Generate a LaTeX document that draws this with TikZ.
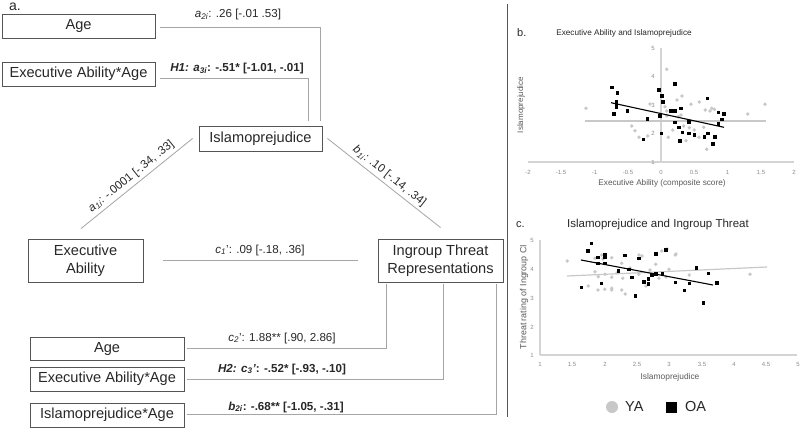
\documentclass[tikz,border=0pt]{standalone}
\usepackage{fontspec}
\setmainfont{Liberation Sans}
\definecolor{boxc}{RGB}{85,85,85}
\definecolor{linec}{RGB}{165,165,165}
\definecolor{ptgray}{RGB}{200,200,200}
\definecolor{axisc}{RGB}{212,212,212}
\definecolor{tickc}{RGB}{140,140,140}
\definecolor{txtc}{RGB}{40,40,40}
\definecolor{axtxt}{RGB}{90,90,90}
\tikzset{
  bx/.style={draw=boxc, line width=0.9pt, inner sep=0pt, text=txtc, font=\fontsize{14.6}{18.5}\selectfont, align=center},
  conn/.style={draw=linec, line width=0.8pt},
  lab/.style={font=\fontsize{11.6}{14}\selectfont, inner sep=0pt, text=txtc},
  blab/.style={font=\bfseries\fontsize{11.6}{14}\selectfont, inner sep=0pt, text=txtc},
  tick/.style={font=\fontsize{6}{7}\selectfont, text=tickc, inner sep=0pt},
  ax/.style={draw=axisc, line width=1.2pt},
  ya/.style={fill=ptgray, draw=none},
  oa/.style={fill=black, draw=none},
}
\begin{document}
\begin{tikzpicture}[x=1pt,y=-1pt]
\useasboundingbox (0,0) rectangle (800,428);
\fill[white] (0,0) rectangle (800,428);

% ---------- panel a ----------
\node[anchor=base west, inner sep=0pt, text=txtc, font=\fontsize{14}{16}\selectfont] (alab) at (9,11) {a.};

\node[bx, minimum width=153pt, minimum height=24pt] (ageA) at (78.5,26) {Age};
\node[bx, minimum width=153pt, minimum height=24pt] (eaageA) at (78.5,74) {Executive Ability*Age};
\node[bx, minimum width=123pt, minimum height=25pt] (islam) at (260.5,138.5) {Islamoprejudice};
\node[bx, minimum width=115pt, minimum height=43pt] (exec) at (85.5,260.5) {Executive\\Ability};
\node[bx, minimum width=125pt, minimum height=43pt] (threat) at (440.5,260.5) {Ingroup Threat\\Representations};
\node[bx, minimum width=154pt, minimum height=23pt] (ageB) at (107,348.5) {Age};
\node[bx, minimum width=154pt, minimum height=24pt] (eaageB) at (107,379) {Executive Ability*Age};
\node[bx, minimum width=154pt, minimum height=24pt] (isageB) at (107,415) {Islamoprejudice*Age};

\draw[conn] ([xshift=5pt,yshift=-1pt]ageA.east) -| ([xshift=59.5pt,yshift=5pt]islam.north);
\draw[conn] ([xshift=5pt,yshift=-4pt]eaageA.east) -| ([xshift=47.5pt,yshift=5pt]islam.north);
\node[lab] (a2l) at (238,15) {\textit{a}\textsubscript{\textit{2i}}: .26 [-.01 .53]};
\node[blab] (h1l) at (237,69) {\textit{H1: a}\textsubscript{\textit{3i}}: -.51* [-1.01, -.01]};

\draw[conn] ([xshift=-4.5pt,yshift=10pt]exec.north) -- node[lab, sloped, above=3pt] (a1l) {\textit{a}\textsubscript{\textit{1i}}: -.0001 [-.34, .33]} ([xshift=-6pt]islam.west);
\draw[conn] ([xshift=5pt]islam.east) -- node[lab, sloped, above=3pt] (b1l) {\textit{b}\textsubscript{\textit{1i}}: .10 [-.14, .34]} ([yshift=11pt]threat.north);

\draw[conn] ([xshift=20pt]exec.east) -- ([xshift=-20pt]threat.west);
\node[lab] (c1l) at (260,250) {\textit{c}\textsubscript{\textit{1}}': .09 [-.18, .36]};

\draw[conn] ([xshift=3pt]ageB.east) -| ([xshift=-54.5pt,yshift=-2pt]threat.south);
\draw[conn] ([xshift=3pt]eaageB.east) -| ([xshift=2.5pt,yshift=-2pt]threat.south);
\draw[conn] ([xshift=3pt,yshift=1pt]isageB.east) -| ([xshift=55.5pt,yshift=-2pt]threat.south);
\node[lab] (c2l) at (282,338) {\textit{c}\textsubscript{\textit{2}}': 1.88** [.90, 2.86]};
\node[blab] (h2l) at (282,369) {\textit{H2: c}\textsubscript{\textit{3}}\textit{'}: -.52* [-.93, -.10]};
\node[blab] (b2l) at (286,407) {\textit{b}\textsubscript{\textit{2i}}: -.68** [-1.05, -.31]};

% separator
\draw[draw=boxc, line width=1pt] (507,4) -- (507,417);

% ---------- panel b ----------
\node[anchor=west, inner sep=0pt, text=txtc, font=\fontsize{11}{13}\selectfont] (blab) at (517,33) {b.};
\node[inner sep=0pt, text=txtc, font=\fontsize{8.2}{9}\selectfont] (btitle) at (624,33) {Executive Ability and Islamoprejudice};
\draw[ax] (661,48) -- (661,162);
\draw[ax] (528,162) -- (794,162);
\foreach \v/\y in {5/48,4/76.5,3/105,2/133.5,1/162}
  \node[tick, anchor=east] at (655,\y) {\v};
\foreach \v/\x in {-2/528,-1.5/561,-1/594.5,-0.5/628,0/661,0.5/694,1/727.5,1.5/761,2/794}
  \node[tick] at (\x,172) {\v};
\node[inner sep=0pt, text=axtxt, font=\fontsize{8.2}{10}\selectfont] (bxl) at (662,183) {Executive Ability (composite score)};
\node[inner sep=0pt, text=axtxt, rotate=90, font=\fontsize{8}{10}\selectfont] (byl) at (521,105) {Islamoprejudice};
\draw[draw=ptgray, line width=1.2pt] (585,121) -- (766,121);
\foreach \x/\y in {586/108.3,666.7/69.3,682/96,691/104.3,699.3/102,711.7/108.3,714.3/109.3,710/111,765/104.3,747.7/114,631.7/126,635/130.7,639/137.3,647.7/136,666.7/115.7,681/115,683.7/126,672.7/130,668.3/137.3,689.3/127.7,694.3/130,703.7/127.3,699/137.3,686/140.7,706.7/149.3,665/106.7,666.7/111,678.3/116.7,705.3/110,650/104,677/100}
  \fill[ya] (\x,\y) circle (1.9pt);
\foreach \x/\y in {611.7/87.3,617.3/92.7,616.3/101.7,616.3/104,616.3/106.7,613.7/114,627.3/110.7,647.3/118.7,643.3/139.3,659/90,662/96,662.7/102,660/115.7,661.3/133.3,675/84,670.7/110.7,674.7/110.7,680.7/108.3,674.7/122.3,678.7/127.3,682.3/132.3,679.7/140.7,688.7/133.3,694.3/134.7,688.7/121.7,707.3/98.3,707.7/133.3,704.3/136.7,715/136.7,712.7/144,718.3/112.3,723.7/114,722/119.3,718.3/124}
  \fill[oa] (\x-1.8,\y-1.8) rectangle (\x+1.8,\y+1.8);
\draw[black, line width=1.1pt] (611,102.7) -- (724,127.3);

% ---------- panel c ----------
\node[anchor=west, inner sep=0pt, text=txtc, font=\fontsize{11}{13}\selectfont] (clab) at (516,225) {c.};
\node[inner sep=0pt, text=txtc, font=\fontsize{11.5}{13}\selectfont] (ctitle) at (658,225) {Islamoprejudice and Ingroup Threat};
\draw[ax] (540,240) -- (540,355);
\draw[ax] (540,355) -- (797,355);
\foreach \v/\y in {5/240,4/269,3/298,2/327,1/355}
  \node[tick] at (532,\y) {\v};
\foreach \v/\x in {1/540,1.5/572,2/605,2.5/637,3/669,3.5/702,4/734,4.5/766,5/798}
  \node[tick] at (\x,364) {\v};
\node[inner sep=0pt, text=axtxt, font=\fontsize{8.4}{10}\selectfont] (cxl) at (670,377) {Islamoprejudice};
\node[inner sep=0pt, text=axtxt, rotate=90, font=\fontsize{8.9}{10}\selectfont] (cyl) at (524,297) {Threat rating of Ingroup CI};
\foreach \x/\y in {567.3/261,595/258.3,601.7/255,611.7/257.7,621.7/263.3,639/255,642/256,661.7/251,675.3/255,655.7/264.3,669/269.3,595/271.7,598.3/276.7,611.7/277.3,622.7/278.3,617.3/272.7,605/274.3,638.7/274.3,659/278.3,666/277,689.3/275,750/274.3,588.3/286,598/290,604.7/289.3,611.7/288.3,611.7/290,621.7/290,625.3/294,646/286,603/259,667/249,676/254,650/270,630/268}
  \fill[ya] (\x,\y) circle (1.9pt);
\draw[draw=ptgray, line width=1.2pt] (567,276) -- (767,267);
\foreach \x/\y in {591.3/243.3,588/251,598/257.3,604.7/254.3,604.7/256.7,598/263.3,604.7/263.3,625/255.3,638.7/258.3,655.7/253.7,665.7/250,618.3/271,628.7/269.3,632/277.3,644/281.7,648.3/279,648.3/284,652/275,655.7/273.7,662.3/273.7,675.3/282.3,689.3/283.3,684.3/290.3,696.3/268,708.3/273.3,716.7/282.7,703.3/302.7,601.3/283.3,581.3/287.3,635.3/296}
  \fill[oa] (\x-1.8,\y-1.8) rectangle (\x+1.8,\y+1.8);
\draw[black, line width=1.1pt] (581,260) -- (713,285);

% legend
\fill[ya] (612,407) circle (6pt);
\node[anchor=west, inner sep=0pt, text=txtc, font=\fontsize{14.5}{16}\selectfont] (yal) at (625,407) {YA};
\fill[oa] (666,401.5) rectangle (677,412.5);
\node[anchor=west, inner sep=0pt, text=txtc, font=\fontsize{14.5}{16}\selectfont] (oal) at (685,407) {OA};
\end{tikzpicture}
\end{document}
